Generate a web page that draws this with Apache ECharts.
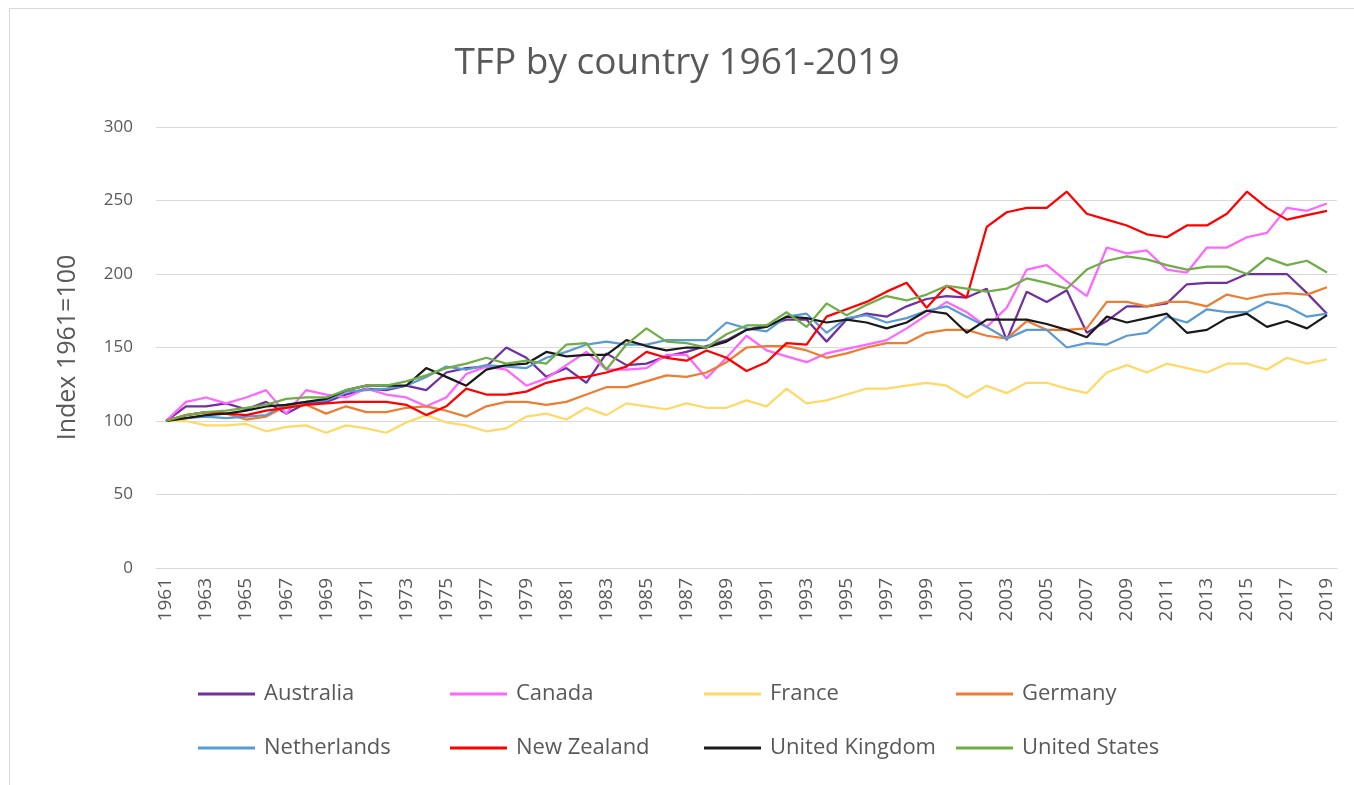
<!DOCTYPE html>
<html>
<head>
<meta charset="utf-8">
<script src="https://cdn.jsdelivr.net/npm/echarts@6/dist/echarts.min.js"></script>
<style>
html,body{margin:0;padding:0;background:#fff;}
#frame{position:absolute;left:9px;top:8px;width:1400px;height:800px;border-left:1px solid #d9d9d9;border-top:1px solid #d9d9d9;}
#chart{position:absolute;left:0;top:0;width:1354px;height:785px;}
</style>
</head>
<body>
<div id="frame"></div>
<div id="chart"></div>
<script>
const years = [];
for (let y = 1961; y <= 2019; y++) years.push(String(y));

const australia = [100,110,110,112,108,113,105,112,113,118,
  122,121,124,121,133,136,137,150,143,130,
  136,126,146,138,139,144,147,151,155,162,
  165,169,169,154,169,173,171,178,183,185,
  184,190,155,188,181,189,160,168,178,178,
  180,193,194,194,200,200,200,187,173];
const canada = [100,113,116,112,116,121,105,121,118,116,
  122,118,116,110,116,132,137,135,124,129,
  138,147,135,135,136,145,145,129,143,158,
  148,144,140,146,149,152,155,163,172,181,
  174,164,177,203,206,195,185,218,214,216,
  203,201,218,218,225,228,245,243,248];
const france = [100,100,97,97,98,93,96,97,92,97,
  95,92,99,104,99,97,93,95,103,105,
  101,109,104,112,110,108,112,109,109,114,
  110,122,112,114,118,122,122,124,126,124,
  116,124,119,126,126,122,119,133,138,133,
  139,136,133,139,139,135,143,139,142];
const germany = [100,104,106,105,101,103,110,111,105,110,
  106,106,109,110,107,103,110,113,113,111,
  113,118,123,123,127,131,130,133,140,150,
  151,151,148,143,146,150,153,153,160,162,
  162,158,156,168,162,162,163,181,181,178,
  181,181,178,186,183,186,187,186,191];
const netherlands = [100,102,103,102,103,104,111,113,114,120,
  121,122,124,130,137,135,138,137,136,143,
  147,152,154,152,152,155,155,155,167,163,
  161,171,173,160,170,172,167,170,175,178,
  171,164,156,162,162,150,153,152,158,160,
  171,167,176,174,174,181,178,171,173];
const newZealand = [100,104,106,105,104,107,109,111,112,113,
  113,113,111,104,110,122,118,118,120,126,
  129,130,133,137,147,143,141,148,143,134,
  140,153,152,171,176,181,188,194,177,192,
  184,232,242,245,245,256,241,237,233,227,
  225,233,233,241,256,245,237,240,243];
const unitedKingdom = [100,102,104,105,107,110,111,113,115,121,
  124,124,124,136,130,124,135,138,139,147,
  144,145,145,155,151,148,150,150,154,162,
  164,171,170,167,169,167,163,167,175,173,
  160,169,169,169,166,162,157,171,167,170,
  173,160,162,170,173,164,168,163,172];
const unitedStates = [100,104,106,107,109,111,115,116,116,121,
  124,124,127,131,136,139,143,139,141,139,
  152,153,135,152,163,154,153,150,159,165,
  165,174,164,180,172,179,185,182,186,192,
  190,188,190,197,194,190,203,209,212,210,
  206,203,205,205,200,211,206,209,201];

const seriesNames = ['Australia','Canada','France','Germany','Netherlands','New Zealand','United Kingdom','United States'];
const seriesData = [australia, canada, france, germany, netherlands, newZealand, unitedKingdom, unitedStates];
const seriesColors = ['#7030A0','#FF66FF','#FFD966','#ED7D31','#5B9BD5','#FF0000','#1a1a1a','#70AD47'];

const FONT = "'Open Sans', 'Noto Sans', sans-serif";
const GREY = '#595959';

const chart = echarts.init(document.getElementById('chart'), null, {renderer: 'canvas'});

const legendCols = [193, 445, 699, 951];
const legendRows = [678, 732];
const legends = seriesNames.map((n, i) => ({
  data: [n],
  left: legendCols[i % 4],
  top: legendRows[Math.floor(i / 4)],
  icon: 'rect',
  itemWidth: 57,
  itemHeight: 3,
  itemGap: 0,
  selectedMode: false,
  textStyle: {fontFamily: FONT, fontSize: 22, color: GREY, padding: [0,0,0,4]}
}));

chart.setOption({
  animation: false,
  backgroundColor: 'transparent',
  title: {
    text: 'TFP by country 1961-2019',
    left: 'center',
    top: 40,
    textStyle: {fontFamily: FONT, fontSize: 37, fontWeight: 'normal', color: GREY}
  },
  legend: legends,
  grid: {left: 156, right: 17, top: 127, bottom: 217, containLabel: false},
  xAxis: {
    type: 'category',
    data: years,
    boundaryGap: true,
    axisLine: {show: true, lineStyle: {color: '#d9d9d9', width: 1}},
    axisTick: {show: false},
    axisLabel: {interval: 1, rotate: 90, margin: 10, fontFamily: FONT, fontSize: 19, color: GREY}
  },
  yAxis: {
    type: 'value',
    min: 0, max: 300, interval: 50,
    name: 'Index 1961=100',
    nameLocation: 'middle',
    nameGap: 76,
    nameTextStyle: {fontFamily: FONT, fontSize: 25, color: GREY},
    axisLine: {show: false},
    axisTick: {show: false},
    axisLabel: {margin: 23, fontFamily: FONT, fontSize: 17, color: GREY},
    splitLine: {lineStyle: {color: '#d9d9d9', width: 1}}
  },
  series: seriesNames.map((n, i) => ({
    name: n,
    type: 'line',
    data: seriesData[i],
    symbol: 'none',
    color: seriesColors[i],
    lineStyle: {width: 2.25, color: seriesColors[i]}
  }))
});
</script>
</body>
</html>
